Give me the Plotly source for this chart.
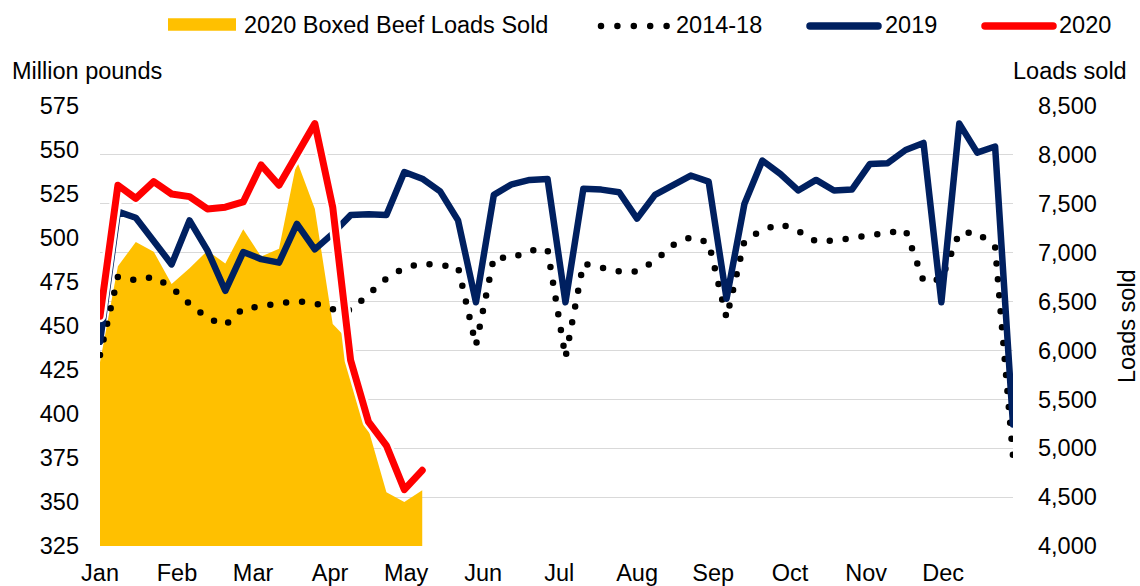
import plotly.graph_objects as go

# ---------------- data ----------------
week = list(range(1, 53))
month_labels = ["Jan", "Feb", "Mar", "Apr", "May", "Jun", "Jul", "Aug", "Sep", "Oct", "Nov", "Dec"]
month_pos = [1, 5.3, 9.55, 13.85, 18.1, 22.4, 26.65, 31.0, 35.25, 39.55, 43.8, 48.1]

avg_2014_18 = [433.5, 478, 476, 478, 472, 462.5, 454.5, 450.5, 460, 461,
               463, 464, 463, 459.5, 459, 468.5, 477, 483, 485.5, 484.5,
               483.5, 439, 489, 488.5, 493, 493.5, 432, 485.5, 483, 481,
               481, 487, 496, 500.5, 497.5, 454.5, 498.5, 504.5, 508, 504,
               498, 498.5, 500, 501.5, 503, 504.5, 475.5, 476.5, 503, 503,
               495, 376]

val_2019 = [441, 515, 511.5, 498.5, 485, 510, 493, 470, 492, 488,
            486, 508, 493.5, 502.5, 513, 513.5, 513, 537.5, 533.7, 526.5,
            510, 463.5, 524.5, 530.5, 533, 533.5, 463.5, 528, 527.5, 526,
            511, 524.5, 530, 535.5, 532, 465.5, 519.5, 544, 536.5, 527,
            533, 527, 527.5, 542, 542.5, 550, 554, 463.5, 565, 548.5,
            552, 394]

val_2020 = [455.5, 530, 522.5, 532, 525, 523.5, 516.5, 517.5, 520.5, 541.5,
            530, 547, 565, 517.5, 430.5, 395.5, 382, 357, 368]

loads_2020 = [5880, 6860, 7110, 7010, 6680, 6840, 7020, 6890, 7240, 6960,
              7040, 7940, 7450, 6270, 6080, 5190, 4550, 4450, 4570]

# ---------------- style ----------------
YELLOW = "#FFC000"
NAVY = "#002060"
RED = "#FF0000"
FONT = "Liberation Sans, Arial, sans-serif"
FS = 23.5

W, H = 1140, 586
ML, MR, MT, MB = 100, 127, 106, 40
PW, PH = W - ML - MR, H - MT - MB


def px_x(px):
    return (px - ML) / PW


def px_y(py):
    return (H - MB - py) / PH


fig = go.Figure()

# area on the base (right) axis so that lines draw above it
fig.add_trace(go.Scatter(
    x=week[:len(loads_2020)], y=loads_2020, yaxis="y", mode="lines",
    fill="tozeroy", fillcolor=YELLOW, line=dict(width=0, color=YELLOW),
    name="2020 Boxed Beef Loads Sold", hoverinfo="x+y"))

fig.add_trace(go.Scatter(
    x=week, y=avg_2014_18, yaxis="y2", mode="lines",
    line=dict(color="black", width=6.5, dash="0px,16px"), name="2014-18"))

fig.add_trace(go.Scatter(
    x=week, y=val_2019, yaxis="y2", mode="lines",
    line=dict(color=NAVY, width=6.5), name="2019"))

fig.add_trace(go.Scatter(
    x=week[:len(val_2020)], y=val_2020, yaxis="y2", mode="lines",
    line=dict(color="white", width=12), hoverinfo="skip", showlegend=False))
fig.add_trace(go.Scatter(
    x=week[:len(val_2020)], y=val_2020, yaxis="y2", mode="lines",
    line=dict(color=RED, width=7), name="2020"))

# ---------------- manual legend ----------------
shapes = []
ly = 25
shapes.append(dict(type="rect", xref="paper", yref="paper",
                   x0=px_x(168), x1=px_x(236), y0=px_y(30.7), y1=px_y(18.3),
                   fillcolor=YELLOW, line=dict(width=0)))
shapes.append(dict(type="line", xref="paper", yref="paper",
                   x0=px_x(601), x1=px_x(668), y0=px_y(ly + 1), y1=px_y(ly + 1),
                   line=dict(color="black", width=6.5, dash="0px,16.4px")))
shapes.append(dict(type="line", xref="paper", yref="paper",
                   x0=px_x(810), x1=px_x(878), y0=px_y(ly + 1), y1=px_y(ly + 1),
                   line=dict(color=NAVY, width=7.5)))
shapes.append(dict(type="line", xref="paper", yref="paper",
                   x0=px_x(985), x1=px_x(1053), y0=px_y(ly + 1), y1=px_y(ly + 1),
                   line=dict(color=RED, width=7.5)))

annotations = []
for text, left in [("2020 Boxed Beef Loads Sold", 242), ("2014-18", 674),
                   ("2019", 883), ("2020", 1057)]:
    annotations.append(dict(text=text, xref="paper", yref="paper",
                            x=px_x(left), y=px_y(ly), xanchor="left", yanchor="middle",
                            showarrow=False, font=dict(family=FONT, size=FS, color="black")))

annotations.append(dict(text="Million pounds", xref="paper", yref="paper",
                        x=px_x(10), y=px_y(71), xanchor="left", yanchor="middle",
                        showarrow=False, font=dict(family=FONT, size=FS, color="black")))
annotations.append(dict(text="Loads sold", xref="paper", yref="paper",
                        x=px_x(1129), y=px_y(71), xanchor="right", yanchor="middle",
                        showarrow=False, font=dict(family=FONT, size=FS, color="black")))
annotations.append(dict(text="Loads sold", xref="paper", yref="paper",
                        x=px_x(1127), y=0.5, xanchor="center", yanchor="middle",
                        textangle=-90, showarrow=False,
                        font=dict(family=FONT, size=FS, color="black")))

fig.update_layout(
    width=W, height=H,
    margin=dict(l=ML, r=MR, t=MT, b=MB, pad=0, autoexpand=False),
    paper_bgcolor="white", plot_bgcolor="white",
    showlegend=False,
    font=dict(family=FONT, size=FS, color="black"),
    xaxis=dict(range=[1, 52], tickmode="array", tickvals=month_pos, ticktext=month_labels,
               showgrid=False, zeroline=False, showline=False, ticks="", automargin=False,
               ticklabelstandoff=10, tickfont=dict(family=FONT, size=FS, color="black")),
    yaxis=dict(side="right", range=[4000, 8500], dtick=500, tick0=4000, tickformat=",",
               showgrid=True, gridcolor="#d9d9d9", gridwidth=1.3, automargin=False,
               zeroline=False, showline=False, ticks="", ticklabelstandoff=24,
               tickfont=dict(family=FONT, size=FS, color="black")),
    yaxis2=dict(side="left", overlaying="y", range=[325, 575], dtick=25, tick0=325,
                showgrid=False, zeroline=False, showline=False, ticks="", automargin=False,
                ticklabelstandoff=20,
                tickfont=dict(family=FONT, size=FS, color="black")),
    shapes=shapes,
    annotations=annotations,
)

post = """
document.body.style.margin = '0';
document.body.style.padding = '0';
var st = document.createElement('style');
st.innerHTML = 'html,body{margin:0;padding:0;overflow:hidden;} .js-line{stroke-linecap:round;stroke-linejoin:round;} .shapelayer path{stroke-linecap:round;}';
document.head.appendChild(st);
"""
fig.write_html("out.html", post_script=post, config={"displayModeBar": False})
